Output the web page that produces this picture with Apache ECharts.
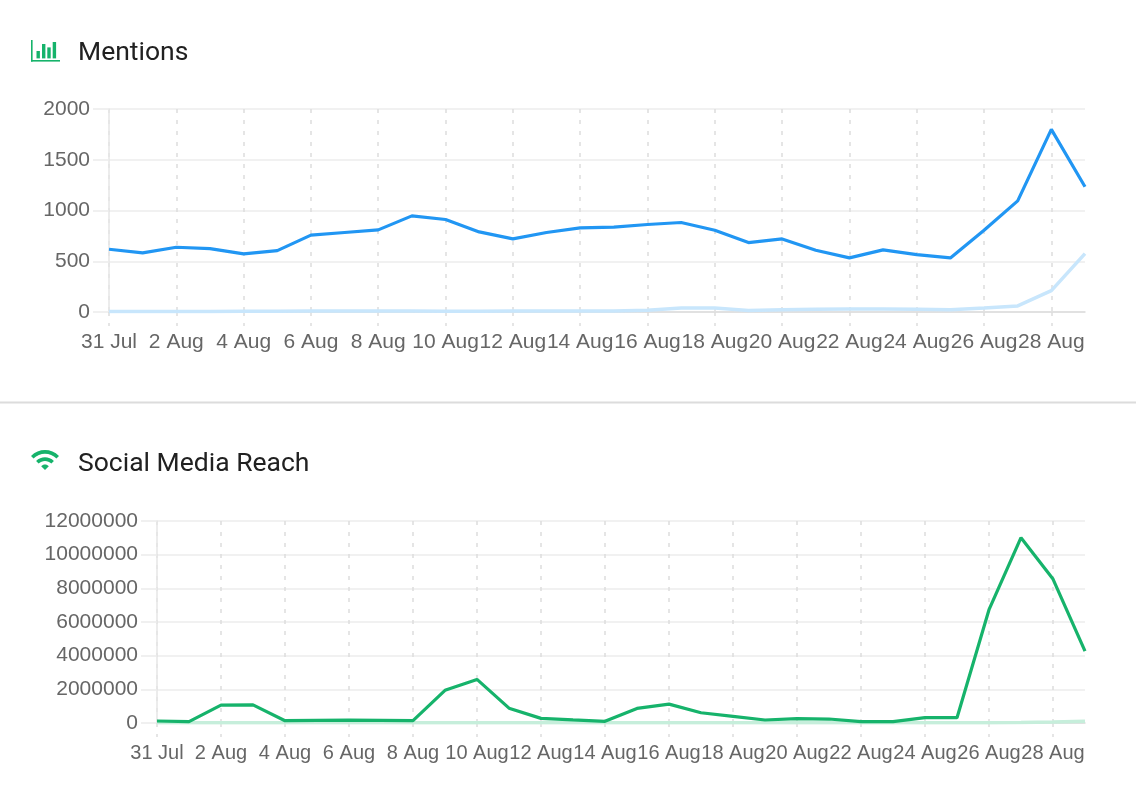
<!DOCTYPE html>
<html>
<head>
<meta charset="utf-8">
<title>Mentions and Social Media Reach</title>
<script src="https://cdn.jsdelivr.net/npm/echarts@6/dist/echarts.min.js"></script>
<style>
  html, body { margin: 0; padding: 0; background: #fff; }
  .wrap { position: relative; width: 1136px; height: 804px; }
  #chart { width: 1136px; height: 804px; }
  .icon { position: absolute; }
</style>
</head>
<body>
<div class="wrap">
  <div id="chart"></div>
  <svg class="icon" style="left:31px;top:40px" width="30" height="23" viewBox="0 0 30 23">
    <rect x="0" y="0" width="1.6" height="21.6" fill="#16b36b"/>
    <rect x="0" y="20" width="29" height="1.6" fill="#16b36b"/>
    <rect x="5.5" y="11" width="3.4" height="7.4" fill="#16b36b"/>
    <rect x="11" y="4" width="3.4" height="14.4" fill="#16b36b"/>
    <rect x="16.3" y="7.4" width="3.4" height="11" fill="#16b36b"/>
    <rect x="21.7" y="2" width="3.4" height="16.4" fill="#16b36b"/>
  </svg>
  <svg class="icon" style="left:31px;top:450px" width="28" height="20" viewBox="1 4.4 22 15.6" preserveAspectRatio="none">
    <path fill="#16b36b" d="M1 9l2 2c4.97-4.97 13.03-4.97 18 0l2-2C16.930 2.93 7.08 2.93 1 9zm8 8l3 3 3-3c-1.65-1.66-4.34-1.66-6 0zm-4-4l2 2c2.76-2.760 7.24-2.76 10 0l2-2C15.14 9.14 8.87 9.14 5 13z"/>
  </svg>
</div>
<script>
const days = [
  "31 Jul", "1 Aug", "2 Aug", "3 Aug", "4 Aug", "5 Aug", "6 Aug", "7 Aug", "8 Aug", "9 Aug",
  "10 Aug", "11 Aug", "12 Aug", "13 Aug", "14 Aug", "15 Aug", "16 Aug", "17 Aug", "18 Aug", "19 Aug",
  "20 Aug", "21 Aug", "22 Aug", "23 Aug", "24 Aug", "25 Aug", "26 Aug", "27 Aug", "28 Aug", "29 Aug"
];

const mentions = [
  618, 582, 638, 625, 572, 605, 757, 783, 809, 947,
  911, 789, 720, 783, 829, 836, 862, 882, 806, 684,
  720, 609, 533, 612, 566, 533, 806, 1095, 1799, 1234
];
const mentionsLow = [
  5, 4, 5, 6, 7, 7, 9, 10, 10, 9,
  8, 8, 9, 9, 10, 11, 18, 40, 40, 15,
  22, 28, 30, 30, 26, 22, 40, 60, 210, 575
];

const reach = [
  118000, 78000, 1060000, 1080000, 137000, 157000, 176000, 157000, 137000, 1940000,
  2590000, 882000, 275000, 180000, 98000, 865000, 1120000, 610000, 393000, 177000,
  256000, 236000, 79000, 79000, 315000, 315000, 6730000, 11010000, 8550000, 4270000
];
const reachLow = [
  10000, 10000, 10000, 10000, 10000, 10000, 10000, 10000, 10000, 10000,
  10000, 10000, 10000, 10000, 10000, 10000, 10000, 10000, 10000, 10000,
  10000, 10000, 10000, 10000, 10000, 10000, 15000, 30000, 60000, 100000
];

const mentionsTicks = { max: 2000, interval: 500 };
const reachTicks = { max: 12000000, interval: 2000000 };

const BLUE = "#2196f3";
const BLUE_LIGHT = "#c8e6fc";
const GREEN = "#16b36b";
const GREEN_LIGHT = "#c6eedb";
const LABEL_FONT = "'Liberation Sans', Arial, sans-serif";

function xAxisFor(gridIndex, fontSize) {
  return {
    type: "category",
    gridIndex,
    data: days,
    boundaryGap: false,
    axisLine: { show: true, lineStyle: { color: "#dcdcdc", width: 1.5 } },
    axisTick: {
      show: true,
      interval: 1,
      length: 14,
      lineStyle: { color: "#dddddd", width: 1.5, type: [4, 7] },
    },
    axisLabel: {
      interval: 1,
      margin: 20,
      hideOverlap: false,
      color: "#666666",
      fontSize,
      fontFamily: LABEL_FONT,
    },
    splitLine: {
      show: true,
      interval: 1,
      lineStyle: { color: "#dddddd", width: 1.5, type: [4, 7] },
    },
  };
}

function yAxisFor(gridIndex, ticks) {
  return {
    type: "value",
    gridIndex,
    min: 0,
    max: ticks.max,
    interval: ticks.interval,
    axisLine: { show: true, lineStyle: { color: "#e6e6e6", width: 1.5 } },
    axisTick: { show: true, length: 16, lineStyle: { color: "#ebebeb", width: 1.5 } },
    axisLabel: {
      margin: 19,
      color: "#666666",
      fontSize: 21,
      fontFamily: LABEL_FONT,
      formatter: (value) => String(value),
    },
    splitLine: { show: true, lineStyle: { color: "#ededed", width: 1.5 } },
  };
}

function lineSeries(data, axisIndex, color, width, z) {
  return {
    type: "line",
    xAxisIndex: axisIndex,
    yAxisIndex: axisIndex,
    data,
    symbol: "none",
    z,
    lineStyle: { color, width },
    itemStyle: { color },
  };
}

const titleStyle = {
  color: "#212121",
  fontSize: 26.5,
  fontWeight: "normal",
  fontFamily: "Roboto, 'Noto Sans', sans-serif",
};

const chart = echarts.init(document.getElementById("chart"), null, { renderer: "canvas" });

chart.setOption({
  animation: false,
  backgroundColor: "#ffffff",
  title: [
    { text: "Mentions", left: 78, top: 40, padding: 0, textStyle: titleStyle },
    { text: "Social Media Reach", left: 78, top: 451, padding: 0, textStyle: titleStyle },
  ],
  grid: [
    { left: 109, top: 109, width: 976, height: 203, outerBoundsMode: "none" },
    { left: 157, top: 521, width: 928, height: 202, outerBoundsMode: "none" },
  ],
  xAxis: [xAxisFor(0, 21), xAxisFor(1, 20)],
  yAxis: [yAxisFor(0, mentionsTicks), yAxisFor(1, reachTicks)],
  series: [
    lineSeries(mentionsLow, 0, BLUE_LIGHT, 3.5, 2),
    lineSeries(mentions, 0, BLUE, 3.2, 3),
    lineSeries(reachLow, 1, GREEN_LIGHT, 3.5, 2),
    lineSeries(reach, 1, GREEN, 3.2, 3),
  ],
  graphic: [
    {
      type: "line",
      shape: { x1: 0, y1: 402.5, x2: 1136, y2: 402.5 },
      style: { stroke: "#dcdcdc", lineWidth: 2 },
    },
  ],
});

window.addEventListener("resize", () => chart.resize());
</script>
</body>
</html>
